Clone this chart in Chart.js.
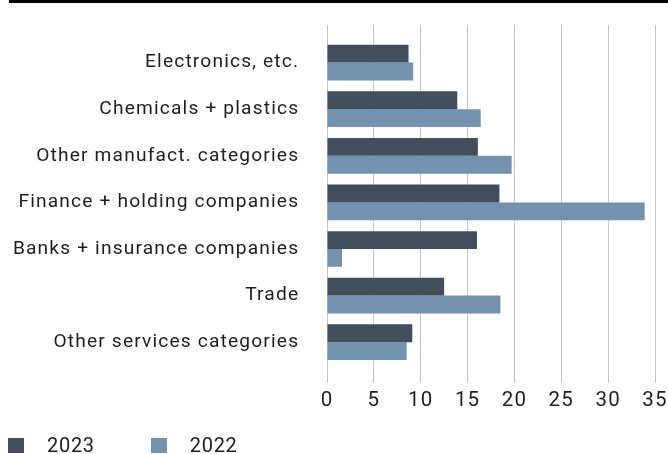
<!DOCTYPE html>
<html>
<head>
<meta charset="utf-8">
<script src="https://cdn.jsdelivr.net/npm/chart.js@4/dist/chart.umd.min.js"></script>
<style>
  html, body { margin: 0; padding: 0; background: #fff; }
  #wrap { position: relative; width: 668px; height: 454px; overflow: hidden; }
  #rule { position: absolute; left: 9px; top: 0; width: 659px; height: 3px; background: #000; }
  #c { position: absolute; left: 0; top: 0; }
  #legend { position: absolute; left: 8px; top: 436px; display: flex; font-family: Roboto, "Liberation Sans", sans-serif; font-size: 20px; letter-spacing: 0.7px; color: #1e1e1e; }
  .item { display: flex; align-items: center; height: 18px; }
  .box { width: 16px; height: 15px; margin-right: 23px; }
  .item + .item { margin-left: 56px; }
</style>
</head>
<body>
<div id="wrap">
  <canvas id="c" width="668" height="454"></canvas>
  <div id="rule"></div>
  <div id="legend"></div>
</div>
<script>
const categories = [
  "Electronics, etc.",
  "Chemicals + plastics",
  "Other manufact. categories",
  "Finance + holding companies",
  "Banks + insurance companies",
  "Trade",
  "Other services categories"
];
const values2023 = [8.7, 13.9, 16.1, 18.4, 16.0, 12.5, 9.1];
const values2022 = [9.2, 16.4, 19.7, 33.9, 1.6, 18.5, 8.5];
const seriesLabels = ["2023", "2022"];
const seriesColors = ["#414f5d", "#7292b0"];
const xTicks = [0, 5, 10, 15, 20, 25, 30, 35];

const gridColor = "#c4c4c4";
const fontFamily = "Roboto, 'Liberation Sans', sans-serif";
const spacing = "1.15px";

const spacingPlugin = {
  id: "spacing",
  beforeInit(c) { c.ctx.letterSpacing = spacing; },
  beforeUpdate(c) { c.ctx.letterSpacing = spacing; },
  beforeLayout(c) { c.ctx.letterSpacing = spacing; },
  beforeDraw(c) { c.ctx.letterSpacing = spacing; }
};

const chart = new Chart(document.getElementById("c"), {
  type: "bar",
  data: {
    labels: categories,
    datasets: [
      { label: seriesLabels[0], data: values2023, backgroundColor: seriesColors[0], xAxisID: "x" },
      { label: seriesLabels[1], data: values2022, backgroundColor: seriesColors[1], xAxisID: "x" }
    ]
  },
  plugins: [spacingPlugin],
  options: {
    indexAxis: "y",
    responsive: false,
    animation: false,
    devicePixelRatio: 1,
    categoryPercentage: 36 / 47,
    barPercentage: 1,
    layout: { padding: { left: 0, right: 13, top: 22, bottom: 28.5 } },
    plugins: { legend: { display: false }, tooltip: { enabled: false } },
    scales: {
      x: {
        type: "linear",
        position: "bottom",
        min: 0,
        max: 35,
        afterBuildTicks: s => { s.ticks = xTicks.map(v => ({ value: v })); },
        grid: { color: gridColor, lineWidth: 1, drawTicks: true, tickLength: 17.5, tickColor: gridColor },
        border: { display: false },
        ticks: { color: "#1e1e1e", font: { family: fontFamily, size: 20.5 }, padding: 5.5 },
        afterFit: s => { s.height = 60; s.paddingLeft = 0; s.paddingRight = 0; }
      },
      x2: {
        type: "linear",
        position: "top",
        min: 0,
        max: 35,
        afterBuildTicks: s => { s.ticks = xTicks.map(v => ({ value: v })); },
        grid: { color: gridColor, lineWidth: 1, drawOnChartArea: false, drawTicks: true, tickLength: 14.5, tickColor: gridColor },
        border: { display: false },
        ticks: { display: false },
        afterFit: s => { s.height = 14.5; s.paddingLeft = 0; s.paddingRight = 0; }
      },
      y: {
        type: "category",
        offset: true,
        grid: { display: false, drawTicks: false },
        border: { display: false },
        ticks: { color: "#1e1e1e", font: { family: fontFamily, size: 19.2 }, padding: 27.8 },
        afterFit: s => { s.width = 327; }
      }
    }
  }
});

const legend = document.getElementById("legend");
chart.data.datasets.forEach(ds => {
  const item = document.createElement("div");
  item.className = "item";
  const box = document.createElement("span");
  box.className = "box";
  box.style.background = ds.backgroundColor;
  const txt = document.createElement("span");
  txt.textContent = ds.label;
  item.appendChild(box);
  item.appendChild(txt);
  legend.appendChild(item);
});
</script>
</body>
</html>
